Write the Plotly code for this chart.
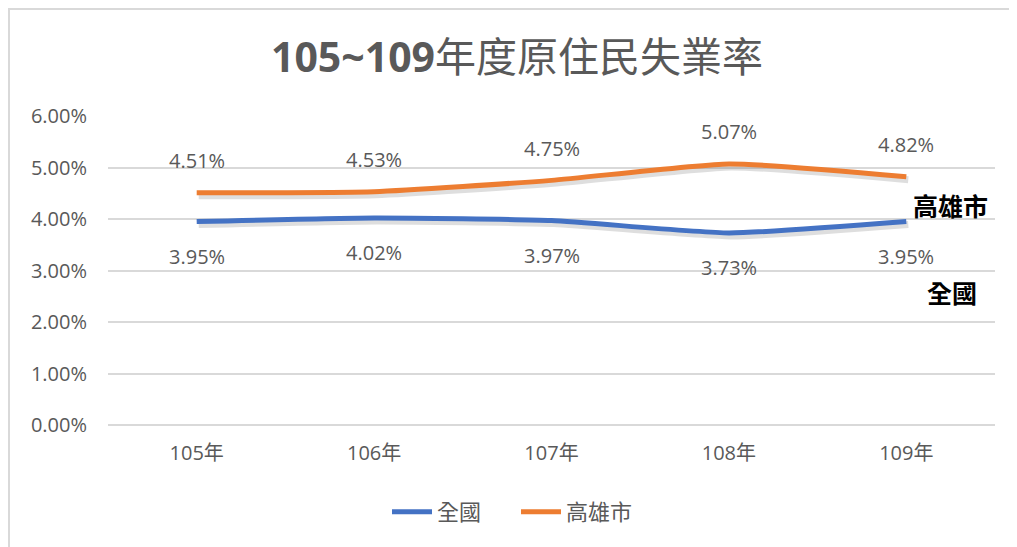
import plotly.graph_objects as go

categories = ["105年", "106年", "107年", "108年", "109年"]
national = [0.0395, 0.0402, 0.0397, 0.0373, 0.0395]
kaohsiung = [0.0451, 0.0453, 0.0475, 0.0507, 0.0482]
y_ticks = [0, 0.01, 0.02, 0.03, 0.04, 0.05, 0.06]
title_text = "<b>105~109</b>年度原住民失業率"

BLUE = "#4472C4"
ORANGE = "#ED7D31"
GRAY = "#595959"
FONT = "Open Sans, Noto Sans CJK TC, sans-serif"

# figure geometry (page has an 8px body margin)
OFF = 8
W, H = 1009, 539
L, R, T, B = 100, 22, 108, 122
PW = W - L - R
PH = H - T - B
XR = [-0.5, len(categories) - 0.5]
YR = [0, 0.06]


def px(xr):
    return (xr - OFF - L) / PW


def py(yr):
    return (H - (yr - OFF) - B) / PH


# shadow offset in pixels -> axis units
sdx = 2 * (XR[1] - XR[0]) / PW
sdy = 3 * (YR[1] - YR[0]) / PH

fig = go.Figure()
# invisible trace to anchor base axes
fig.add_trace(go.Scatter(x=categories, y=national, mode="lines", line=dict(width=0),
                         showlegend=False, hoverinfo="skip", xaxis="x", yaxis="y"))
for vals in (national, kaohsiung):
    fig.add_trace(go.Scatter(x=categories, y=vals, mode="lines", showlegend=False, hoverinfo="skip",
                             line=dict(color="rgba(0,0,0,0.13)", width=7, shape="spline", smoothing=0.5),
                             xaxis="x2", yaxis="y2"))
fig.add_trace(go.Scatter(x=categories, y=national, name="全國", mode="lines",
                         line=dict(color=BLUE, width=5, shape="spline", smoothing=0.5),
                         xaxis="x3", yaxis="y3"))
fig.add_trace(go.Scatter(x=categories, y=kaohsiung, name="高雄市", mode="lines",
                         line=dict(color=ORANGE, width=5, shape="spline", smoothing=0.5),
                         xaxis="x3", yaxis="y3"))

annotations = []
for c, v in zip(categories, kaohsiung):
    annotations.append(dict(x=c, y=v, xref="x", yref="y", text=f"{v*100:.2f}%",
                            showarrow=False, yshift=32, xanchor="center", yanchor="middle",
                            font=dict(family=FONT, size=20, color=GRAY)))
for c, v in zip(categories, national):
    annotations.append(dict(x=c, y=v, xref="x", yref="y", text=f"{v*100:.2f}%",
                            showarrow=False, yshift=-35, xanchor="center", yanchor="middle",
                            font=dict(family=FONT, size=20, color=GRAY)))

annotations.append(dict(x=px(950), y=py(205), xref="paper", yref="paper", text="<b>高雄市</b>",
                        showarrow=False, xanchor="center", yanchor="middle",
                        font=dict(family="Noto Sans CJK TC", size=25, color="black")))
annotations.append(dict(x=px(952), y=py(292), xref="paper", yref="paper", text="<b>全國</b>",
                        showarrow=False, xanchor="center", yanchor="middle",
                        font=dict(family="Noto Sans CJK TC", size=25, color="black")))

hidden = dict(visible=False, showgrid=False, zeroline=False)

fig.update_layout(
    width=W, height=H,
    margin=dict(l=L, r=R, t=T, b=B),
    paper_bgcolor="white", plot_bgcolor="white",
    title=dict(text=title_text, x=(517 - OFF) / W, xanchor="center",
               y=1 - (58 - OFF) / H, yanchor="middle", yref="container",
               font=dict(family="Open Sans, Noto Sans CJK TC", size=41, color=GRAY)),
    font=dict(family=FONT, color=GRAY),
    xaxis=dict(range=XR, showgrid=False, showline=False, ticks="",
               tickfont=dict(size=20, color=GRAY), ticklabelstandoff=14),
    yaxis=dict(range=YR, tickvals=y_ticks, tickformat=".2%", showgrid=True,
               gridcolor="#D9D9D9", gridwidth=1.5, zeroline=True, zerolinecolor="#D9D9D9",
               zerolinewidth=1.5, tickfont=dict(size=20, color=GRAY), ticklabelstandoff=20),
    xaxis2=dict(range=[XR[0] - sdx, XR[1] - sdx], overlaying="x", **hidden),
    yaxis2=dict(range=[YR[0] + sdy, YR[1] + sdy], overlaying="y", **hidden),
    xaxis3=dict(range=XR, overlaying="x", **hidden),
    yaxis3=dict(range=YR, overlaying="y", **hidden),
    legend=dict(orientation="h", x=px(516), xanchor="center", y=py(512), yanchor="middle",
                font=dict(size=22, color=GRAY), itemwidth=40, entrywidth=74),
    annotations=annotations,
    shapes=[
        dict(type="line", xref="paper", yref="paper", x0=px(8), x1=px(1017 + 8),
             y0=py(9), y1=py(9), line=dict(color="#D9D9D9", width=2)),
        dict(type="line", xref="paper", yref="paper", x0=px(9), x1=px(9),
             y0=py(9), y1=py(547 + 8), line=dict(color="#D9D9D9", width=2)),
    ],
)

fig.write_html("out.html")
